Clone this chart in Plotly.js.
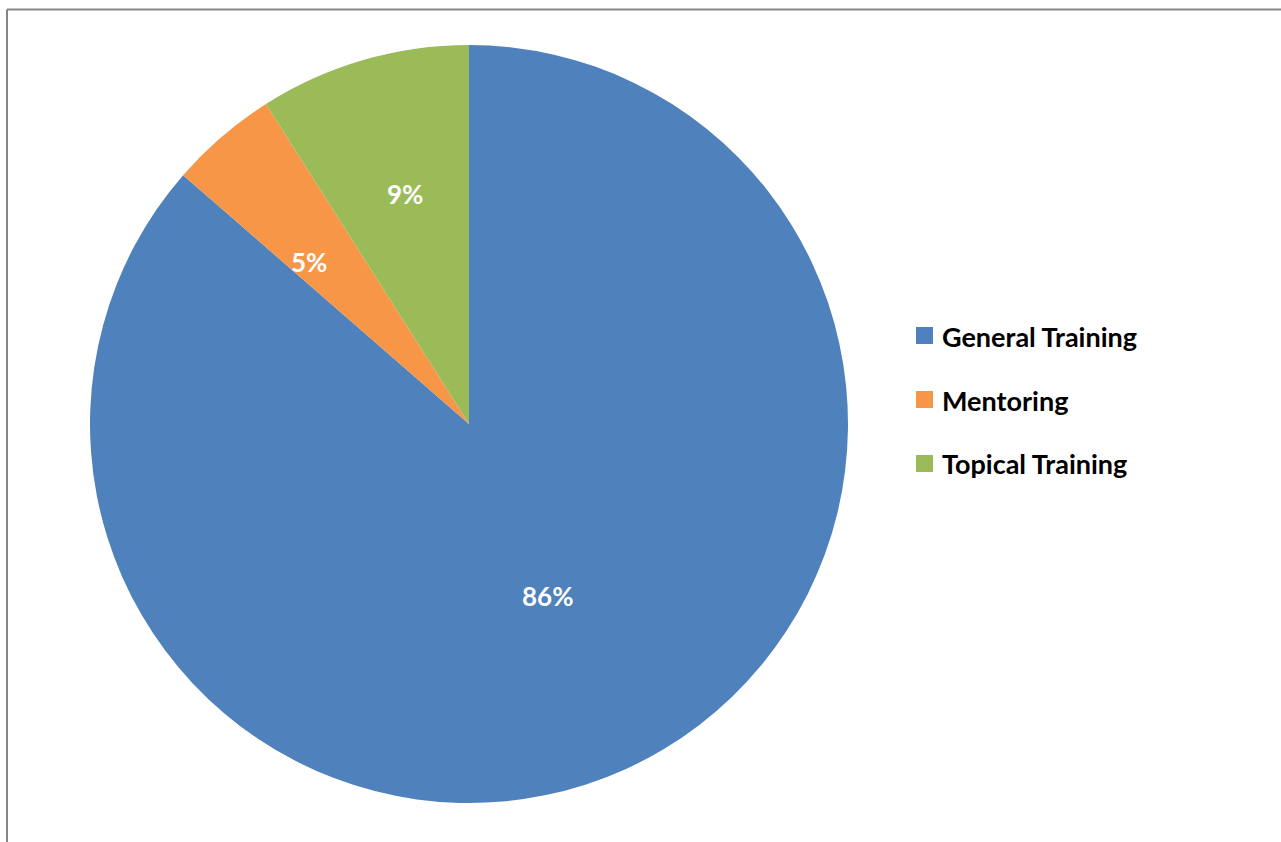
<!DOCTYPE html>
<html>
<head>
<meta charset="utf-8">
<script src="https://cdn.plot.ly/plotly-3.0.1.min.js"></script>
<style>
html,body{margin:0;padding:0;background:#fff;}
#chart{width:1281px;height:842px;}
</style>
</head>
<body>
<div id="chart"></div>
<script>
const labels = ["General Training", "Mentoring", "Topical Training"];
const values = [86.4, 4.6, 9.0];
const colors = ["#4F81BD", "#F79646", "#9BBB59"];

const W = 1281, H = 842;
const font = "Lato, 'Open Sans', 'DejaVu Sans', sans-serif";

// pie placement (pixels)
const pieBox = {left: 90, right: 848, top: 45, bottom: 803};
const labelRadius = [0.50, 0.60, 0.63];   // fraction of radius for each percent label
const labelAngleShift = [0, -4, 0.7];     // degrees, fine placement of labels

const trace = {
  type: "pie",
  labels: labels,
  values: values,
  sort: false,
  direction: "clockwise",
  rotation: 0,
  marker: {colors: colors, line: {width: 0}},
  textinfo: "none",
  domain: {x: [pieBox.left / W, pieBox.right / W], y: [(H - pieBox.bottom) / H, (H - pieBox.top) / H]},
  showlegend: false,
  hoverinfo: "label+percent"
};

const shapes = [
  {type: "line", xref: "paper", yref: "paper", x0: 7 / W, x1: 1.01, y0: 1 - 9.5 / H, y1: 1 - 9.5 / H, line: {color: "#868686", width: 2}},
  {type: "line", xref: "paper", yref: "paper", x0: 7 / W, x1: 7 / W, y0: 1 - 9.5 / H, y1: -0.01, line: {color: "#868686", width: 2}}
];
const annotations = [];

// percent labels placed at each slice's mid angle
const total = values.reduce((a, b) => a + b, 0);
const cx = (pieBox.left + pieBox.right) / 2, cy0 = (pieBox.top + pieBox.bottom) / 2;
const R = (pieBox.right - pieBox.left) / 2;
let cum = 0;
values.forEach((v, i) => {
  const mid = (cum + v / 2) / total * 2 * Math.PI + labelAngleShift[i] * Math.PI / 180;
  cum += v;
  const px = cx + Math.sin(mid) * R * labelRadius[i];
  const py = cy0 - Math.cos(mid) * R * labelRadius[i];
  annotations.push({
    xref: "paper", yref: "paper", x: px / W, y: 1 - py / H,
    xanchor: "center", yanchor: "middle", showarrow: false,
    text: "<b>" + Math.round(v / total * 100) + "%</b>",
    font: {family: font, size: 26, color: "#ffffff"}
  });
});

// legend built from the label/colour arrays
labels.forEach((lab, i) => {
  const cy = 336 + i * 64;
  shapes.push({
    type: "rect", xref: "paper", yref: "paper",
    x0: 916 / W, x1: 933 / W, y0: 1 - (cy + 8) / H, y1: 1 - (cy - 9) / H,
    fillcolor: colors[i], line: {width: 0}
  });
  annotations.push({
    xref: "paper", yref: "paper", x: 940 / W, y: 1 - cy / H,
    xanchor: "left", yanchor: "middle", showarrow: false,
    text: "<b>" + lab + "</b>",
    font: {family: font, size: 27, color: "#000000"}
  });
});

const layout = {
  width: W, height: H,
  margin: {l: 0, r: 0, t: 0, b: 0},
  paper_bgcolor: "#ffffff",
  plot_bgcolor: "#ffffff",
  showlegend: false,
  shapes: shapes,
  annotations: annotations
};

Plotly.newPlot("chart", [trace], layout, {displayModeBar: false, staticPlot: true});
</script>
</body>
</html>
